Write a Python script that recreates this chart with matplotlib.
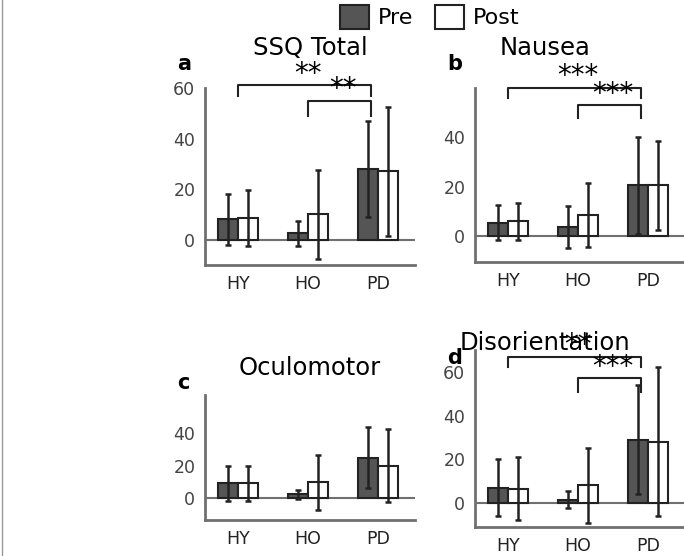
import matplotlib
matplotlib.use("Agg")
import matplotlib.pyplot as plt
from matplotlib.lines import Line2D
from matplotlib.patches import Patch
import numpy as np

groups = ["HY", "HO", "PD"]
titles = ["SSQ Total", "Nausea", "Oculomotor", "Disorientation"]
letters = ["a", "b", "c", "d"]
pre_mean = [[8, 2.5, 28], [5.5, 3.5, 20.5], [9, 2, 25], [7, 1.5, 29]]
pre_sd = [[10, 5, 19], [7, 8.5, 19.5], [11, 3, 19], [13, 4, 25]]
post_mean = [[8.5, 10, 27], [6, 8.5, 20.5], [9, 9.5, 20], [6.5, 8, 28]]
post_sd = [[11, 17.5, 25.5], [7.5, 13, 18], [11, 17, 23], [14.5, 17, 34]]
yticks = [[0, 20, 40, 60], [0, 20, 40], [0, 20, 40], [0, 20, 40, 60]]
ylims = [(-10, 60), (-10.5, 60), (-14, 64), (-11, 70)]
brackets = [
    [(0, 2, 61, 4, "**"), (1, 2, 55, 6, "**")],
    [(0, 2, 60, 4, "***"), (1, 2, 53, 5, "***")],
    [],
    [(0, 2, 67, 5, "**"), (1, 2, 57, 6, "***")],
]

W, H = 684, 556
fig = plt.figure(figsize=(W / 100, H / 100), dpi=100)
boxes = [(205, 88, 415, 265), (475, 88, 684, 262), (205, 395, 415, 520), (475, 350, 684, 527)]
title_off = [28, 28, 15, -5]
letter_off = [14, 14, 2, -18]
gray = "#707070"
x = np.arange(1, 4)
bw = 0.29
for i in range(4):
    l, t, r, b = boxes[i]
    ax = fig.add_axes([l / W, (H - b) / H, (r - l) / W, (b - t) / H])
    ax.bar(x - bw / 2, pre_mean[i], bw, color="#555555", edgecolor="#222222", lw=1.5, zorder=2)
    ax.bar(x + bw / 2, post_mean[i], bw, color="white", edgecolor="#222222", lw=1.5, zorder=2)
    ax.errorbar(x - bw / 2, pre_mean[i], yerr=pre_sd[i], fmt="none", ecolor="#222222", elinewidth=1.8, capsize=2.5, capthick=1.8, zorder=3)
    ax.errorbar(x + bw / 2, post_mean[i], yerr=post_sd[i], fmt="none", ecolor="#222222", elinewidth=1.8, capsize=2.5, capthick=1.8, zorder=3)
    ax.axhline(0, color=gray, lw=1.5, zorder=1)
    ax.set_xlim(0.53, 0.53 + (r - l) / 70)
    ax.set_ylim(*ylims[i])
    ax.set_yticks(yticks[i])
    ax.set_xticks(x)
    ax.set_xticklabels(groups)
    for s in ["top", "right"]:
        ax.spines[s].set_visible(False)
    for s in ["left", "bottom"]:
        ax.spines[s].set_color(gray)
        ax.spines[s].set_linewidth(2)
    ax.tick_params(length=0, labelsize=12.5, colors="#222222", pad=7)
    ax.tick_params(axis="y", labelcolor="#444444")
    for (g0, g1, y, d, lab) in brackets[i]:
        x0, x1 = x[g0], x[g1] - bw / 2 + 0.05
        ax.plot([x0, x0, x1, x1], [y - d, y, y, y - d], color="#222222", lw=1.5, clip_on=False)
        ax.text((x0 + x1) / 2 + 0.05, y - 1, lab, ha="center", va="bottom", fontsize=20, clip_on=False)
    ax.text(0.5 if i % 2 == 0 else (545 - l) / (r - l), 1 + title_off[i] / (b - t), titles[i],
            transform=ax.transAxes, ha="center", va="bottom", fontsize=17.5)
    ax.text(-28 / (r - l), 1 + letter_off[i] / (b - t), letters[i], transform=ax.transAxes,
            ha="left", va="bottom", fontsize=15, fontweight="bold")

fig.add_artist(Line2D([2 / W, 2 / W], [0, 1], color="#999999", lw=1))
handles = [Patch(facecolor="#555555", edgecolor="#222222", lw=1.5, label="Pre"),
           Patch(facecolor="white", edgecolor="#222222", lw=1.5, label="Post")]
fig.legend(handles=handles, loc="center", bbox_to_anchor=(430 / W, 1 - 17 / H), ncol=2, frameon=False,
           fontsize=16, handlelength=1.3, handleheight=1.3, columnspacing=1.0, handletextpad=0.4)
fig.savefig("out.png", dpi=100)
